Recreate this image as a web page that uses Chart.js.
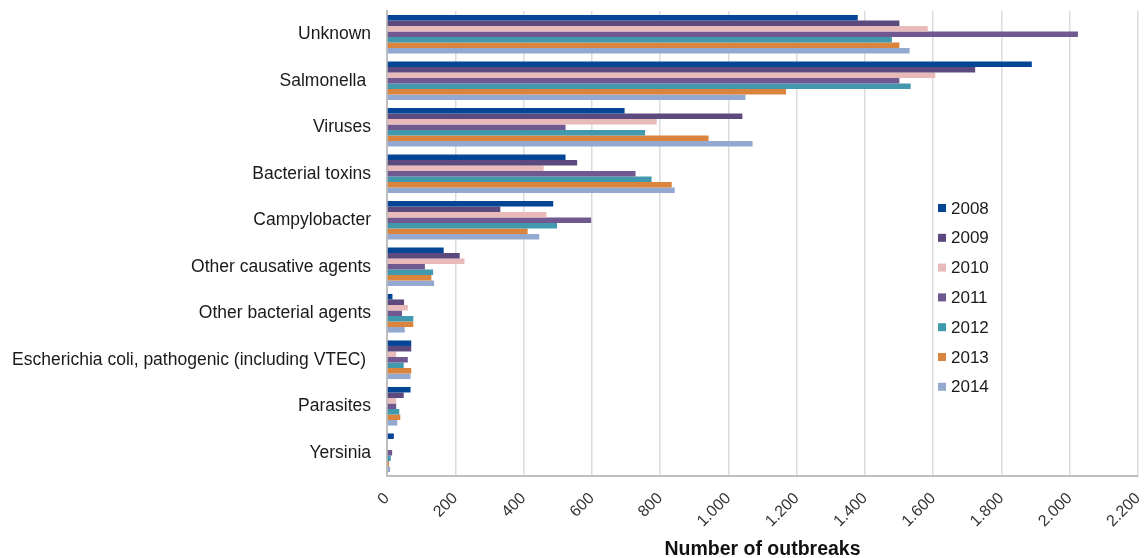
<!DOCTYPE html>
<html>
<head>
<meta charset="utf-8">
<script src="https://cdn.jsdelivr.net/npm/chart.js"></script>
<style>
  html, body { margin: 0; padding: 0; background: #fff; }
  #wrap { width: 1145px; height: 558px; }
</style>
</head>
<body>
<div id="wrap"><canvas id="myChart" width="1145" height="558"></canvas></div>
<script>
var categories = ["Unknown", "Salmonella ", "Viruses", "Bacterial toxins", "Campylobacter",
  "Other causative agents", "Other bacterial agents", "Escherichia coli, pathogenic (including VTEC) ",
  "Parasites", "Yersinia"];

var y2008 = [1379, 1889, 696, 523, 487, 166, 16, 71, 69, 20];
var y2009 = [1501, 1723, 1041, 557, 332, 213, 50, 71, 49, 0];
var y2010 = [1584, 1606, 790, 459, 467, 227, 61, 27, 27, 0];
var y2011 = [2024, 1501, 523, 728, 598, 111, 44, 61, 27, 15];
var y2012 = [1479, 1534, 756, 775, 498, 135, 77, 49, 36, 11];
var y2013 = [1501, 1169, 942, 834, 412, 130, 77, 71, 39, 6];
var y2014 = [1531, 1050, 1071, 843, 446, 138, 52, 69, 30, 9];

var xTicks = [0, 200, 400, 600, 800, 1000, 1200, 1400, 1600, 1800, 2000, 2200];

var FONT = '"Liberation Sans", Arial, sans-serif';

function fmt(v) {
  return String(v).replace(/\B(?=(\d{3})+(?!\d))/g, '.');
}

// legend drawn inside the plot, like the excel original
var insideLegend = {
  id: 'insideLegend',
  afterDraw: function(chart) {
    var c = chart.ctx;
    c.save();
    c.font = '17px ' + FONT;
    c.textBaseline = 'middle';
    chart.data.datasets.forEach(function(ds, i) {
      var y = 208 + i * 29.8;
      c.fillStyle = ds.backgroundColor;
      c.fillRect(938, y - 4, 8, 8);
      c.fillStyle = '#1a1a1a';
      c.fillText(ds.label, 951, y + 1);
    });
    c.restore();
  }
};

var ctx = document.getElementById('myChart').getContext('2d');
var chart = new Chart(ctx, {
  type: 'bar',
  data: {
    labels: categories,
    datasets: [
      { label: "2008", backgroundColor: 'rgb(5, 69, 150)', data: y2008 },
      { label: "2009", backgroundColor: 'rgb(92, 74, 126)', data: y2009 },
      { label: "2010", backgroundColor: 'rgb(232, 186, 186)', data: y2010 },
      { label: "2011", backgroundColor: 'rgb(112, 88, 144)', data: y2011 },
      { label: "2012", backgroundColor: 'rgb(66, 153, 174)', data: y2012 },
      { label: "2013", backgroundColor: 'rgb(219, 132, 61)', data: y2013 },
      { label: "2014", backgroundColor: 'rgb(147, 169, 207)', data: y2014 }
    ]
  },
  options: {
    indexAxis: 'y',
    responsive: false,
    animation: false,
    layout: { padding: { top: 11, right: 7, left: 0, bottom: 0 } },
    datasets: { bar: { categoryPercentage: 0.83, barPercentage: 1.0 } },
    plugins: {
      legend: { display: false },
      tooltip: { enabled: false }
    },
    scales: {
      x: {
        min: 0,
        max: 2200,
        afterBuildTicks: function(scale) {
          scale.ticks = xTicks.map(function(v) { return { value: v }; });
        },
        afterFit: function(scale) {
          scale.height = 82;
          scale.paddingLeft = 0;
          scale.paddingRight = 0;
        },
        grid: { color: '#dcdcdc', lineWidth: 1.5, drawTicks: false },
        border: { color: '#bfbfbf', width: 2 },
        ticks: {
          minRotation: 45, maxRotation: 45, padding: 13,
          color: '#333',
          font: { family: FONT, size: 16 },
          callback: function(v) { return fmt(v); }
        },
        title: {
          display: true,
          text: 'Number of outbreaks',
          color: '#111',
          font: { family: FONT, size: 19.5, weight: 'bold' },
          padding: { top: 0, bottom: -3 }
        }
      },
      y: {
        afterFit: function(scale) {
          scale.width = 387;
          scale.paddingTop = 0;
          scale.paddingBottom = 0;
        },
        grid: { display: false, drawTicks: false },
        border: { color: '#bfbfbf', width: 2 },
        ticks: {
          padding: 16,
          color: '#1a1a1a',
          font: { family: FONT, size: 17.5 }
        }
      }
    }
  },
  plugins: [insideLegend]
});
</script>
</body>
</html>
